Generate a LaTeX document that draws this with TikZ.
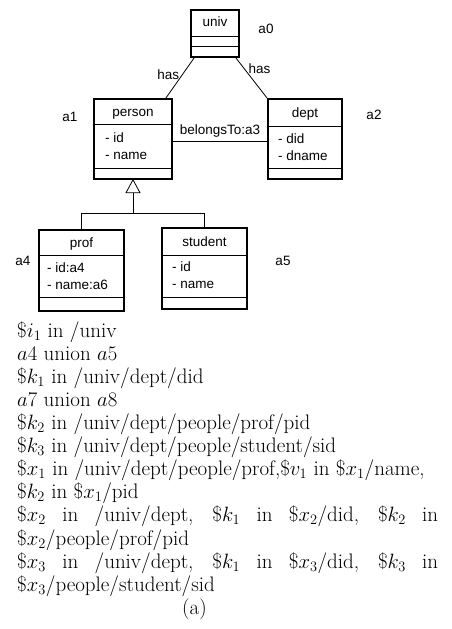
\documentclass[tikz,border=0pt]{standalone}
\usepackage{fontspec}
\newfontfamily\dsf{Liberation Sans}
\usetikzlibrary{calc}
\tikzset{
  umlbox/.style={draw, line width=1.5pt, rectangle, inner sep=0pt},
  comp/.style={line width=0.8pt},
  conn/.style={line width=0.8pt},
  dtext/.style={font=\dsf\fontsize{13.5}{15}\selectfont, inner sep=0pt, text height=9.5pt, text depth=2.7pt},
  ltext/.style={font=\fontsize{21}{24}\selectfont, inner sep=0pt, anchor=base west},
}
\begin{document}
\begin{tikzpicture}[x=1pt,y=-1pt]
\useasboundingbox (0,0) rectangle (451,629);
% boxes
\node[umlbox, minimum width=48pt, minimum height=47pt] (univ) at (215,33.5) {};
\node[umlbox, minimum width=78pt, minimum height=80pt] (person) at (133,139) {};
\node[umlbox, minimum width=74pt, minimum height=80pt] (dept) at (305,139) {};
\node[umlbox, minimum width=85pt, minimum height=81pt] (prof) at (81.5,270.5) {};
\node[umlbox, minimum width=85pt, minimum height=81pt] (student) at (204.5,268.5) {};
% compartments
\draw[comp] (191,36) -- (239,36) (191,46) -- (239,46);
\draw[comp] (94,124) -- (172,124) (94,168) -- (172,168);
\draw[comp] (268,126) -- (342,126) (268,168) -- (342,168);
\draw[comp] (39,255) -- (124,255) (39,297) -- (124,297);
\draw[comp] (162,255) -- (247,255) (162,297) -- (247,297);
% titles
\node[dtext] (tuniv) at (215,23) {univ};
\node[dtext] (tperson) at (133,113) {person};
\node[dtext] (tdept) at (305,114) {dept};
\node[dtext] (tprof) at (81.5,244) {prof};
\node[dtext] (tstudent) at (204.5,243) {student};
% attributes
\node[dtext, anchor=west] (pid) at (105,139) {- id};
\node[dtext, anchor=west] (pname) at (105,156) {- name};
\node[dtext, anchor=west] (did) at (278,140) {- did};
\node[dtext, anchor=west] (dname) at (278,157) {- dname};
\node[dtext, anchor=west] (fid) at (47,269) {- id:a4};
\node[dtext, anchor=west] (fname) at (47,286) {- name:a6};
\node[dtext, anchor=west] (sid) at (172,268) {- id};
\node[dtext, anchor=west] (sname) at (172,285) {- name};
% labels
\node[dtext] (a0) at (266,30) {a0};
\node[dtext] (a1) at (70,118) {a1};
\node[dtext] (a2) at (374,116) {a2};
\node[dtext] (a4) at (23,262) {a4};
\node[dtext] (a5) at (283,262) {a5};
% connectors
\draw[conn] ([xshift=4pt]univ.south west) -- node[dtext, pos=0.45, left=2pt] (has1) {has} ([xshift=-7pt]person.north east);
\draw[conn] ([xshift=-4pt]univ.south east) -- node[dtext, pos=0.3, right=3pt] (has2) {has} (dept.north west);
\draw[conn] ([yshift=-2pt]person.east) -- node[dtext, above=3pt] (bt) {belongsTo:a3} ([yshift=-2pt]dept.west);
% inheritance
\coordinate (tb) at ($(person.south)+(0,13)$);
\coordinate (bar) at ($(person.south)+(0,34)$);
\draw[conn, fill=white] (person.south) -- ($(tb)+(-7,0)$) -- ($(tb)+(7,0)$) -- cycle;
\draw[conn] (tb) -- (bar);
\draw[conn] (prof.north) |- (bar) -| (student.north);
% text
\node[ltext] (l1) at (17,337) {\$$i_1$ in /univ};
\node[ltext] (l2) at (17,360) {$a4$ union $a5$};
\node[ltext] (l3) at (17,383) {\$$k_1$ in /univ/dept/did};
\node[ltext] (l4) at (17,406) {$a7$ union $a8$};
\node[ltext] (l5) at (17,429) {\$$k_2$ in /univ/dept/people/prof/pid};
\node[ltext] (l6) at (17,452) {\$$k_3$ in /univ/dept/people/student/sid};
\node[ltext] (l7) at (17,475) {\$$x_1$ in /univ/dept/people/prof,\$$v_1$ in \$$x_1$/name,};
\node[ltext] (l8) at (17,498) {\$$k_2$ in \$$x_1$/pid};
\node[ltext] (l9) at (17,521) {\makebox[421pt][s]{\$$x_2$ in /univ/dept, \$$k_1$ in \$$x_2$/did, \$$k_2$ in}};
\node[ltext] (l10) at (17,545) {\$$x_2$/people/prof/pid};
\node[ltext] (l11) at (17,568) {\makebox[421pt][s]{\$$x_3$ in /univ/dept, \$$k_1$ in \$$x_3$/did, \$$k_3$ in}};
\node[ltext] (l12) at (17,591) {\$$x_3$/people/student/sid};
\node[ltext] (l13) at (182,614) {(a)};
\end{tikzpicture}
\end{document}
